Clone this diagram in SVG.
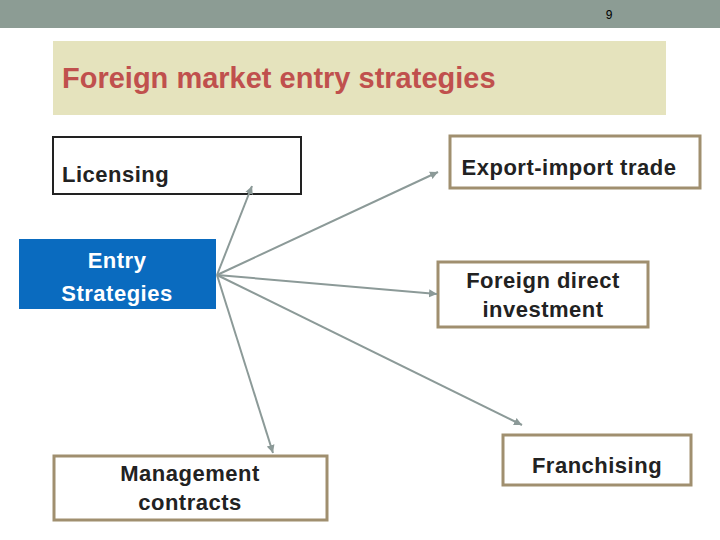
<svg xmlns="http://www.w3.org/2000/svg" width="720" height="540" viewBox="0 0 720 540">
<style>
.t{font-family:"Liberation Sans",Arial,sans-serif;font-size:22px;font-weight:bold;letter-spacing:0.5px;fill:#222}
.b{fill:#fff;stroke:#a08f6f;stroke-width:3}
.c{stroke:#8c9a98;stroke-width:2;fill:none;marker-end:url(#a)}
</style>
<defs><marker id="a" markerWidth="5" markerHeight="5" refX="4" refY="2.5" orient="auto" markerUnits="strokeWidth"><path d="M0,0.5L4,2.5L0,4.5z" fill="#8c9a98"/></marker></defs>
<rect width="720" height="540" fill="#fff"/>
<rect width="720" height="28" fill="#8c9c94"/>
<text x="609" y="19" font-family="Liberation Sans,sans-serif" font-size="12" text-anchor="middle">9</text>
<rect x="53" y="41" width="613" height="74" fill="#e5e3bd"/>
<text x="62" y="88" font-family="Liberation Sans,sans-serif" font-size="29" font-weight="bold" fill="#c0504d">Foreign market entry strategies</text>
<g id="licensing"><rect x="53" y="137" width="248" height="57" fill="#fff" stroke="#222" stroke-width="2"/><text class="t" x="62" y="182" font-size="24">Licensing</text></g>
<g id="entry"><rect x="19" y="239" width="197" height="70" fill="#0a6bbf"/><text class="t" x="117" y="268" text-anchor="middle" style="fill:#fff">Entry</text><text class="t" x="117" y="301" text-anchor="middle" style="fill:#fff">Strategies</text></g>
<g id="export"><rect class="b" x="450" y="136" width="250" height="52"/><text class="t" x="569" y="175" text-anchor="middle">Export-import trade</text></g>
<g id="fdi"><rect class="b" x="438" y="262" width="210" height="65"/><text class="t" x="543" y="288" text-anchor="middle">Foreign direct</text><text class="t" x="543" y="317" text-anchor="middle">investment</text></g>
<g id="franchising"><rect class="b" x="503" y="435" width="188" height="50"/><text class="t" x="597" y="473" text-anchor="middle">Franchising</text></g>
<g id="mgmt"><rect class="b" x="54" y="456" width="273" height="64"/><text class="t" x="190" y="481" text-anchor="middle">Management</text><text class="t" x="190" y="510" text-anchor="middle">contracts</text></g>
<g id="connectors">
<path class="c" d="M217,275L252,186"/>
<path class="c" d="M217,275L438,172"/>
<path class="c" d="M217,275L437,294"/>
<path class="c" d="M217,275L522,425"/>
<path class="c" d="M217,275L273,453"/>
</g>
</svg>
